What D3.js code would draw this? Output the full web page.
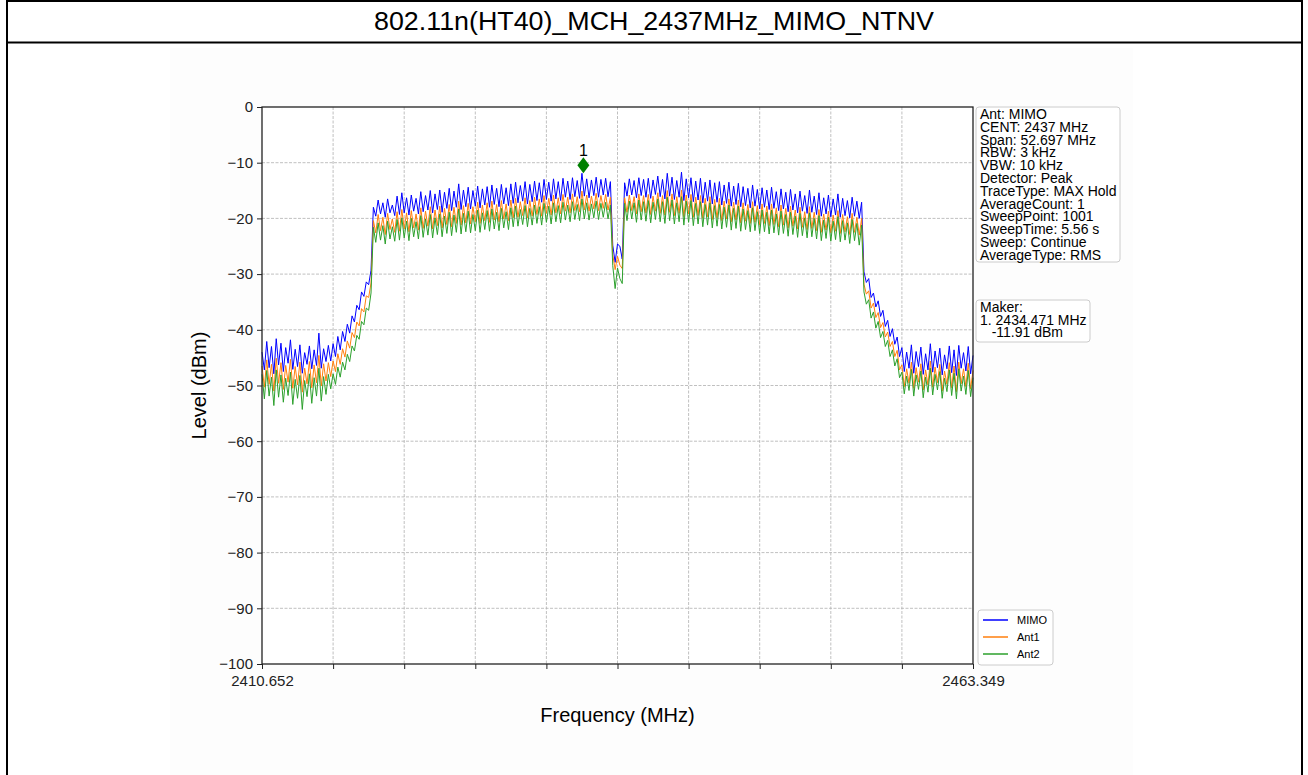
<!DOCTYPE html>
<html>
<head>
<meta charset="utf-8">
<script src="https://cdn.jsdelivr.net/npm/d3@7"></script>
<style>
  body { margin: 0; background: #fff; }
  text { font-family: "Liberation Sans", Arial, sans-serif; }
</style>
</head>
<body>
<div id="chart"></div>
<script>
// sweep settings
var freqStart = 2410.652, freqStop = 2463.349, sweepCount = 301;
var title = "802.11n(HT40)_MCH_2437MHz_MIMO_NTNV";
var seriesNames = ["MIMO", "Ant1", "Ant2"];
var yTicks = [0, -10, -20, -30, -40, -50, -60, -70, -80, -90, -100];
var xTickLabels = ["2410.652", "", "", "", "", "", "", "", "", "", "2463.349"];
var infoLines = ["Ant: MIMO", "CENT: 2437 MHz", "Span: 52.697 MHz", "RBW: 3 kHz", "VBW: 10 kHz",
  "Detector: Peak", "TraceType: MAX Hold", "AverageCount: 1", "SweepPoint: 1001",
  "SweepTime: 5.56 s", "Sweep: Continue", "AverageType: RMS"];
var markerFreq = 2434.471, markerLevel = -11.91;
var markerLines = ["Maker:", "1. 2434.471 MHz", "   -11.91 dBm"];

// levels (dBm)
var mimo = [
  -44.0, -47.2, -42.1, -46.8, -43.0, -47.9, -41.6, -46.3, -42.4, -47.5, -43.2, -46.0, -41.8, -47.1, -43.5,
  -46.6, -42.7, -47.8, -44.1, -46.2, -42.9, -47.0, -43.6, -46.4, -40.6, -46.9, -43.4, -45.7, -42.8,
  -45.6, -42.5, -44.8, -41.2, -43.6, -40.3, -42.1, -39.0, -40.6, -37.5, -38.6, -35.6, -36.4, -33.2, -34.0,
  -31.4, -31.9, -29.3,
  -18.0, -19.6, -16.7, -19.2, -17.2, -19.8, -16.5, -19.0, -17.6, -19.5,
  -16.0, -19.3, -15.4, -19.0, -16.3, -19.4, -15.8, -18.7, -16.4, -19.2,
  -15.2, -18.8, -15.9, -18.5, -15.0, -19.0, -15.6, -18.4, -14.9, -18.9,
  -15.3, -18.2, -14.6, -18.6, -15.1, -18.0, -13.8, -18.4, -14.9, -17.9,
  -14.4, -18.3, -15.0, -17.8, -14.2, -18.1, -14.7, -17.6, -14.3, -18.0,
  -14.0, -17.5, -14.6, -17.9, -13.9, -17.4, -14.5, -17.7, -13.8, -17.3,
  -13.5, -17.2, -14.1, -16.9, -13.4, -17.4, -13.9, -17.0, -13.3, -16.8,
  -13.6, -17.1, -13.0, -16.6, -13.5, -16.9, -12.9, -16.5, -13.4, -16.8,
  -12.8, -16.2, -13.3, -16.6, -12.7, -16.1, -13.2, -16.4, -11.9, -16.0,
  -12.9, -16.3, -13.1, -15.9, -12.6, -16.2, -13.0, -15.8, -12.8, -16.1, -13.4,
  -24.8, -27.9, -24.6, -25.0, -27.3,
  -13.6, -16.0, -12.9, -15.8, -13.2, -16.3, -12.7, -15.9, -13.0, -16.2,
  -12.8, -16.4, -13.1, -15.7, -12.4, -16.1, -13.0, -16.5, -11.9, -16.0,
  -12.6, -16.6, -13.2, -16.2, -11.7, -16.8, -12.9, -16.3, -12.7, -17.0,
  -13.3, -16.7, -12.8, -17.2, -13.5, -16.9, -13.1, -17.4, -13.6, -17.1,
  -13.4, -17.6, -14.0, -17.3, -13.5, -17.8, -14.2, -17.5, -13.7, -17.9,
  -14.3, -17.7, -14.6, -18.1, -14.0, -17.8, -14.8, -18.3, -14.5, -18.0,
  -14.9, -18.4, -14.4, -18.2, -15.2, -18.6, -14.7, -18.3, -15.3, -18.8,
  -14.8, -18.5, -15.6, -19.0, -15.1, -18.7, -15.9, -19.1, -14.9, -18.9,
  -16.0, -19.3, -15.4, -19.6, -16.3, -19.2, -15.8, -19.7, -16.5, -19.4,
  -15.6, -19.8, -16.4, -19.5, -16.8, -19.9, -16.2, -19.6, -16.9, -20.0, -17.1,
  -29.6, -31.5, -30.8, -34.2, -33.4, -35.9, -34.8, -37.6, -36.5, -39.4, -38.3, -41.2, -39.8, -42.6, -41.3, -44.8,
  -43.2, -47.5, -44.0, -46.9, -42.7, -47.8, -43.9, -46.6, -43.1, -48.0, -44.3, -47.2, -42.5, -47.6, -43.8,
  -46.8, -43.3, -48.1, -44.5, -47.0, -42.9, -47.7, -43.6, -48.2, -42.8, -46.9, -44.1, -47.4, -43.0, -47.9, -44.6
];
var ant1 = [
  -46.5, -50.3, -45.4, -49.8, -46.2, -51.0, -45.1, -49.6, -45.9, -50.7, -46.4, -49.4, -45.3, -50.5, -46.6,
  -49.9, -45.8, -51.2, -46.9, -49.7, -45.7, -50.4, -46.3, -49.5, -44.6, -50.1, -46.1, -49.2, -45.9,
  -48.4, -45.6, -47.5, -44.3, -46.2, -43.4, -44.9, -42.0, -43.3, -40.5, -41.4, -38.6, -39.3, -36.2, -36.8,
  -33.9, -34.2, -31.6,
  -20.4, -22.6, -19.3, -22.2, -19.8, -22.9, -19.1, -22.0, -20.1, -22.5,
  -18.8, -22.3, -18.4, -21.9, -19.0, -22.4, -18.6, -21.7, -19.2, -22.1,
  -18.1, -21.8, -18.7, -21.4, -17.9, -21.9, -18.5, -21.3, -17.8, -21.7,
  -18.2, -21.1, -17.5, -21.5, -18.0, -20.9, -16.9, -21.2, -17.7, -20.8,
  -17.3, -21.0, -17.9, -20.6, -17.1, -20.9, -17.6, -20.4, -17.2, -20.7,
  -16.9, -20.3, -17.5, -20.6, -16.8, -20.1, -17.4, -20.4, -16.7, -19.9,
  -16.4, -19.8, -17.0, -19.5, -16.3, -19.9, -16.8, -19.6, -16.2, -19.3,
  -16.5, -19.6, -15.9, -19.1, -16.4, -19.4, -15.8, -19.0, -16.3, -19.2,
  -15.7, -18.7, -16.2, -19.0, -15.6, -18.6, -16.1, -18.8, -15.1, -18.5,
  -15.8, -18.7, -16.0, -18.3, -15.5, -18.6, -15.9, -18.2, -15.7, -18.5, -16.2,
  -26.5, -29.2, -26.8, -28.4, -29.0,
  -16.3, -18.9, -15.8, -18.6, -16.1, -19.2, -15.6, -18.8, -15.9, -19.0,
  -15.7, -19.3, -16.0, -18.7, -15.4, -19.1, -15.9, -19.4, -15.0, -18.9,
  -15.6, -19.5, -16.1, -19.1, -14.9, -19.7, -15.8, -19.2, -15.7, -19.8,
  -16.2, -19.5, -15.9, -20.0, -16.4, -19.7, -16.1, -20.2, -16.6, -19.9,
  -16.4, -20.4, -16.9, -20.1, -16.5, -20.6, -17.1, -20.3, -16.7, -20.8,
  -17.2, -20.5, -17.5, -20.9, -17.0, -20.7, -17.7, -21.2, -17.4, -20.9,
  -17.8, -21.3, -17.4, -21.1, -18.1, -21.5, -17.6, -21.2, -18.2, -21.7,
  -17.8, -21.4, -18.5, -21.9, -18.0, -21.6, -18.8, -22.0, -17.9, -21.8,
  -18.9, -22.2, -18.4, -22.5, -19.2, -22.1, -18.7, -22.6, -19.4, -22.3,
  -18.6, -22.7, -19.3, -22.4, -19.7, -22.9, -19.1, -22.5, -19.8, -23.0, -20.0,
  -31.8, -33.6, -33.0, -36.1, -35.2, -37.8, -36.9, -39.6, -38.7, -41.3, -40.4, -43.0, -42.1, -44.8, -43.7, -47.2,
  -46.3, -50.2, -47.0, -49.6, -45.8, -50.5, -46.8, -49.4, -46.1, -50.8, -47.2, -49.9, -45.6, -50.3, -46.7,
  -49.5, -46.2, -51.0, -47.4, -49.8, -45.9, -50.4, -46.5, -51.1, -45.8, -49.7, -47.0, -50.2, -46.0, -50.6, -47.3
];
var ant2 = [
  -48.0, -52.4, -47.3, -51.9, -48.5, -53.6, -47.2, -52.1, -48.1, -53.0, -48.7, -51.8, -47.6, -53.4, -48.9,
  -52.3, -48.2, -54.3, -49.1, -52.0, -47.9, -53.2, -48.6, -51.9, -46.9, -52.8, -48.4, -51.6, -48.0,
  -50.6, -47.9, -49.8, -46.7, -48.5, -45.8, -47.2, -44.4, -45.7, -42.9, -43.8, -41.0, -41.7, -38.5, -39.1,
  -36.1, -36.5, -33.4,
  -21.6, -24.3, -20.8, -23.9, -21.3, -24.6, -20.5, -23.7, -21.5, -24.1,
  -20.2, -23.9, -19.9, -23.5, -20.5, -24.0, -20.0, -23.3, -20.6, -23.7,
  -19.5, -23.4, -20.1, -23.0, -19.3, -23.5, -19.9, -22.9, -19.2, -23.3,
  -19.6, -22.7, -18.9, -23.1, -19.4, -22.5, -18.3, -22.8, -19.1, -22.4,
  -18.7, -22.6, -19.3, -22.2, -18.5, -22.5, -19.0, -22.0, -18.6, -22.3,
  -18.3, -21.9, -18.9, -22.2, -18.2, -21.7, -18.8, -22.0, -18.1, -21.5,
  -17.8, -21.4, -18.4, -21.1, -17.7, -21.5, -18.2, -21.2, -17.6, -20.9,
  -17.9, -21.2, -17.3, -20.7, -17.8, -21.0, -17.2, -20.6, -17.7, -20.8,
  -17.1, -20.3, -17.6, -20.6, -17.0, -20.2, -17.5, -20.4, -16.5, -20.1,
  -17.2, -20.3, -17.4, -19.9, -16.9, -20.2, -17.3, -19.8, -17.1, -20.1, -17.6,
  -28.5, -32.6, -28.9, -30.8, -31.7,
  -17.3, -20.4, -16.9, -20.1, -17.2, -20.7, -16.7, -20.3, -17.0, -20.5,
  -16.8, -20.8, -17.1, -20.2, -16.5, -20.6, -17.0, -20.9, -16.2, -20.4,
  -16.7, -21.0, -17.2, -20.6, -16.1, -21.2, -16.9, -20.7, -16.8, -21.3,
  -17.3, -21.0, -17.0, -21.5, -17.5, -21.2, -17.2, -21.7, -17.7, -21.4,
  -17.5, -21.9, -18.0, -21.6, -17.6, -22.1, -18.2, -21.8, -17.8, -22.3,
  -18.3, -22.0, -18.6, -22.4, -18.1, -22.2, -18.8, -22.7, -18.5, -22.4,
  -18.9, -22.8, -18.5, -22.6, -19.2, -23.0, -18.7, -22.7, -19.3, -23.2,
  -18.9, -22.9, -19.6, -23.4, -19.1, -23.1, -19.9, -23.5, -19.0, -23.3,
  -20.0, -23.7, -19.5, -24.0, -20.3, -23.6, -19.8, -24.1, -20.5, -23.8,
  -19.7, -24.2, -20.4, -23.9, -20.8, -24.5, -20.2, -24.0, -20.9, -24.8, -21.2,
  -33.2, -35.4, -34.6, -37.9, -36.8, -39.7, -38.5, -41.4, -40.3, -43.0, -41.9, -44.8, -43.6, -46.5, -45.2, -48.6,
  -47.6, -51.5, -48.3, -50.9, -47.1, -51.9, -48.1, -50.7, -47.4, -52.2, -48.5, -51.2, -46.9, -51.7, -48.0,
  -50.8, -47.5, -52.3, -48.7, -51.1, -47.2, -51.8, -47.8, -52.4, -47.0, -51.0, -48.3, -51.6, -47.3, -52.0, -48.6
];
var colors = ["#0000ff", "#ff7f0e", "#2ca02c"];

var W = 1308, H = 775;
var margin = {top: 107, right: 335, bottom: 111, left: 262};
var width = W - margin.left - margin.right,
    height = H - margin.top - margin.bottom;

var svg = d3.select("#chart").append("svg")
    .attr("width", W).attr("height", H);

// page frame + title
svg.append("rect").attr("x", 170).attr("y", 48).attr("width", 963).attr("height", H - 48)
    .attr("fill", "#fdfdfd");
svg.append("path").attr("d", "M7,775V1H1302V775").attr("fill", "none")
    .attr("stroke", "#000").attr("stroke-width", 2);
svg.append("line").attr("x1", 7).attr("x2", 1302).attr("y1", 42.5).attr("y2", 42.5)
    .attr("stroke", "#000").attr("stroke-width", 2);
svg.append("text").attr("x", 654).attr("y", 30).attr("text-anchor", "middle")
    .attr("textLength", 560).attr("lengthAdjust", "spacingAndGlyphs")
    .style("font-size", "25px").text(title);

var g = svg.append("g").attr("transform", "translate(" + margin.left + "," + margin.top + ")");
g.append("rect").attr("width", width).attr("height", height).attr("fill", "#fff");

var freqs = d3.range(sweepCount).map(function(i) {
    return freqStart + i * (freqStop - freqStart) / (sweepCount - 1);
});
var x = d3.scaleLinear().domain([freqStart, freqStop]).range([0, width]);
var y = d3.scaleLinear().domain([-100, 0]).range([height, 0]);
var xTicks = d3.range(11).map(function(i) { return freqStart + i * (freqStop - freqStart) / 10; });

// grid
g.append("g").selectAll("line").data(xTicks.slice(1, -1)).enter().append("line")
    .attr("x1", function(d) { return x(d); }).attr("x2", function(d) { return x(d); })
    .attr("y1", 0).attr("y2", height)
    .attr("stroke", "#b0b0b0").attr("stroke-width", 0.8).attr("stroke-dasharray", "3,1.5");
g.append("g").selectAll("line").data(yTicks.slice(1, -1)).enter().append("line")
    .attr("y1", function(d) { return y(d); }).attr("y2", function(d) { return y(d); })
    .attr("x1", 0).attr("x2", width)
    .attr("stroke", "#b0b0b0").attr("stroke-width", 0.8).attr("stroke-dasharray", "3,1.5");

// traces
var line = d3.line()
    .x(function(d, i) { return x(freqs[i]); })
    .y(function(d) { return y(d); });
[mimo, ant1, ant2].forEach(function(s, k) {
    g.append("path").datum(s).attr("fill", "none")
        .attr("stroke", colors[k]).attr("stroke-width", 1).attr("stroke-linejoin", "round")
        .attr("d", line);
});

// marker
var mx = x(markerFreq), my = y(markerLevel) - 8;
g.append("path").attr("d", "M" + mx + "," + (my - 8) + "L" + (mx + 6) + "," + my + "L" + mx + "," + (my + 8) + "L" + (mx - 6) + "," + my + "Z")
    .attr("fill", "#008000");
g.append("text").attr("x", mx).attr("y", my - 9).attr("text-anchor", "middle")
    .style("font-size", "16px").text("1");

// axes
var yAxis = g.append("g").call(d3.axisLeft(y).tickValues(yTicks).tickSize(5).tickPadding(4)
    .tickFormat(function(d) { return d < 0 ? "\u2212" + Math.abs(d) : d; }));
var xAxis = g.append("g").attr("transform", "translate(0," + height + ")")
    .call(d3.axisBottom(x).tickValues(xTicks).tickSize(5).tickPadding(6)
    .tickFormat(function(d, i) { return xTickLabels[i]; }));
[yAxis, xAxis].forEach(function(a) {
    a.select(".domain").remove();
    a.selectAll(".tick line").attr("stroke", "#222").attr("stroke-width", 1);
    a.selectAll("text").style("font-size", "15px").attr("fill", "#222")
        .style("font-family", "Liberation Sans, Arial, sans-serif");
});
g.append("rect").attr("width", width).attr("height", height).attr("fill", "none")
    .attr("stroke", "#222").attr("stroke-width", 1.3);

svg.append("text").attr("transform", "translate(206," + (margin.top + height / 2) + ") rotate(-90)")
    .attr("text-anchor", "middle").style("font-size", "20px").text("Level (dBm)");
svg.append("text").attr("x", margin.left + width / 2).attr("y", 722).attr("text-anchor", "middle")
    .style("font-size", "20px").text("Frequency (MHz)");

// info boxes
function textBox(lines, bx, by, bw, bh, lh, fs) {
    svg.append("rect").attr("x", bx).attr("y", by).attr("width", bw).attr("height", bh)
        .attr("rx", 3).attr("fill", "#fff").attr("stroke", "#cccccc");
    svg.append("g").selectAll("text").data(lines).enter().append("text")
        .attr("x", bx + 4).attr("y", function(d, i) { return by + 12 + i * lh; })
        .style("font-size", fs + "px").style("white-space", "pre").attr("xml:space", "preserve")
        .text(function(d) { return d; });
}
textBox(infoLines, 976, 107, 144, 155, 12.8, 14);
textBox(markerLines, 976, 300, 114, 42, 12.5, 14);

// legend
var legend = svg.append("g").attr("transform", "translate(978,610)");
legend.append("rect").attr("width", 75).attr("height", 55).attr("rx", 3)
    .attr("fill", "#fff").attr("stroke", "#cccccc");
legend.selectAll("line").data(seriesNames).enter().append("line")
    .attr("x1", 5).attr("x2", 30)
    .attr("y1", function(d, i) { return 10 + i * 17; }).attr("y2", function(d, i) { return 10 + i * 17; })
    .attr("stroke", function(d, i) { return colors[i]; }).attr("stroke-width", 1.5);
legend.selectAll("text").data(seriesNames).enter().append("text")
    .attr("x", 39).attr("y", function(d, i) { return 14 + i * 17; })
    .style("font-size", "11px").text(function(d) { return d; });
</script>
</body>
</html>
